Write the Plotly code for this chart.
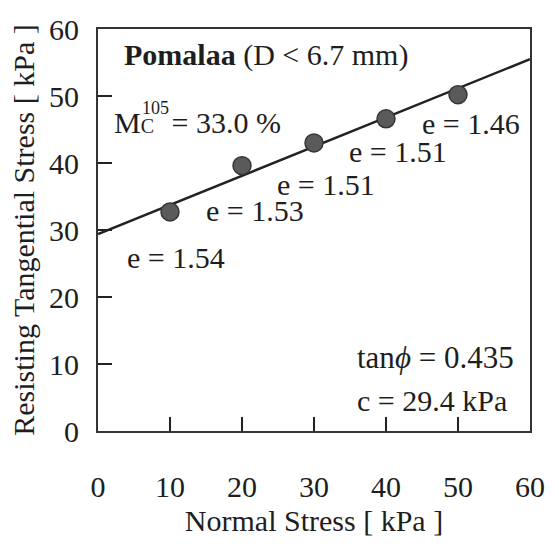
import plotly.graph_objects as go

normal_stress = [10, 20, 30, 40, 50]
tangential_stress = [32.7, 39.6, 43.0, 46.6, 50.2]
void_labels = ["e = 1.54", "e = 1.53", "e = 1.51", "e = 1.51", "e = 1.46"]
label_x = [3.7, 14.7, 24.6, 34.6, 44.7]
label_y = [25.9, 32.9, 36.8, 41.7, 45.9]
tan_phi = 0.435
cohesion = 29.4
line_x = [0, 60]
line_y = [cohesion + tan_phi * v for v in line_x]
tick_vals = [0, 10, 20, 30, 40, 50, 60]

FONT = "Liberation Serif"
TXT = "#1e1e1e"
fig = go.Figure()
fig.add_trace(go.Scatter(x=line_x, y=line_y, mode="lines",
                         line=dict(color="#222222", width=2.5), showlegend=False))
fig.add_trace(go.Scatter(x=normal_stress, y=tangential_stress, mode="markers",
                         marker=dict(size=18, color="#5a5a5a", line=dict(color="#363636", width=1.5)),
                         showlegend=False))

for t, x, y in zip(void_labels, label_x, label_y):
    fig.add_annotation(x=x, y=y, text=t, showarrow=False, xanchor="left", yanchor="middle",
                       font=dict(family=FONT, size=30, color=TXT))

fig.add_annotation(x=3.3, y=56.1, text="<b>Pomalaa</b> (D &lt; 6.7 mm)", showarrow=False,
                   xanchor="left", yanchor="middle", font=dict(family=FONT, size=30, color=TXT))
fig.add_annotation(x=1.9, y=46.1,
                   text="M<span style='font-size:20px'>C</span>&nbsp;&nbsp;&#8202;= 33.0 %",
                   showarrow=False, xanchor="left", yanchor="middle",
                   font=dict(family=FONT, size=30, color=TXT))
fig.add_annotation(x=5.8, y=48.2, text="105", showarrow=False,
                   xanchor="left", yanchor="middle", font=dict(family=FONT, size=18, color=TXT))
fig.add_annotation(x=35.7, y=10.9, text="tan<i>ϕ</i> = %.3f" % tan_phi, showarrow=False,
                   xanchor="left", yanchor="middle", font=dict(family=FONT, size=31, color=TXT))
fig.add_annotation(x=35.7, y=4.5, text="c = %.1f kPa" % cohesion, showarrow=False,
                   xanchor="left", yanchor="middle", font=dict(family=FONT, size=30, color=TXT))

axis_common = dict(showline=True, linecolor="#333", linewidth=2, mirror=True,
                   ticks="inside", ticklen=14, tickwidth=1.5, tickcolor="#222",
                   showgrid=False, zeroline=False, tickvals=tick_vals,
                   ticklabeloverflow="allow",
                   tickfont=dict(family=FONT, size=30, color=TXT))
fig.update_xaxes(range=[0, 60], title=dict(text="Normal Stress [ kPa ]", font=dict(family=FONT, size=30, color=TXT), standoff=8),
                 ticklabelstandoff=28, **axis_common)
fig.update_yaxes(range=[0, 60], title=dict(text="Resisting Tangential Stress [ kPa ]", font=dict(family=FONT, size=30, color=TXT), standoff=6),
                 ticklabelstandoff=11, **axis_common)
fig.update_layout(width=559, height=544, margin=dict(l=98, r=29, t=15, b=101),
                  plot_bgcolor="white", paper_bgcolor="white")
fig.write_html("out.html")
